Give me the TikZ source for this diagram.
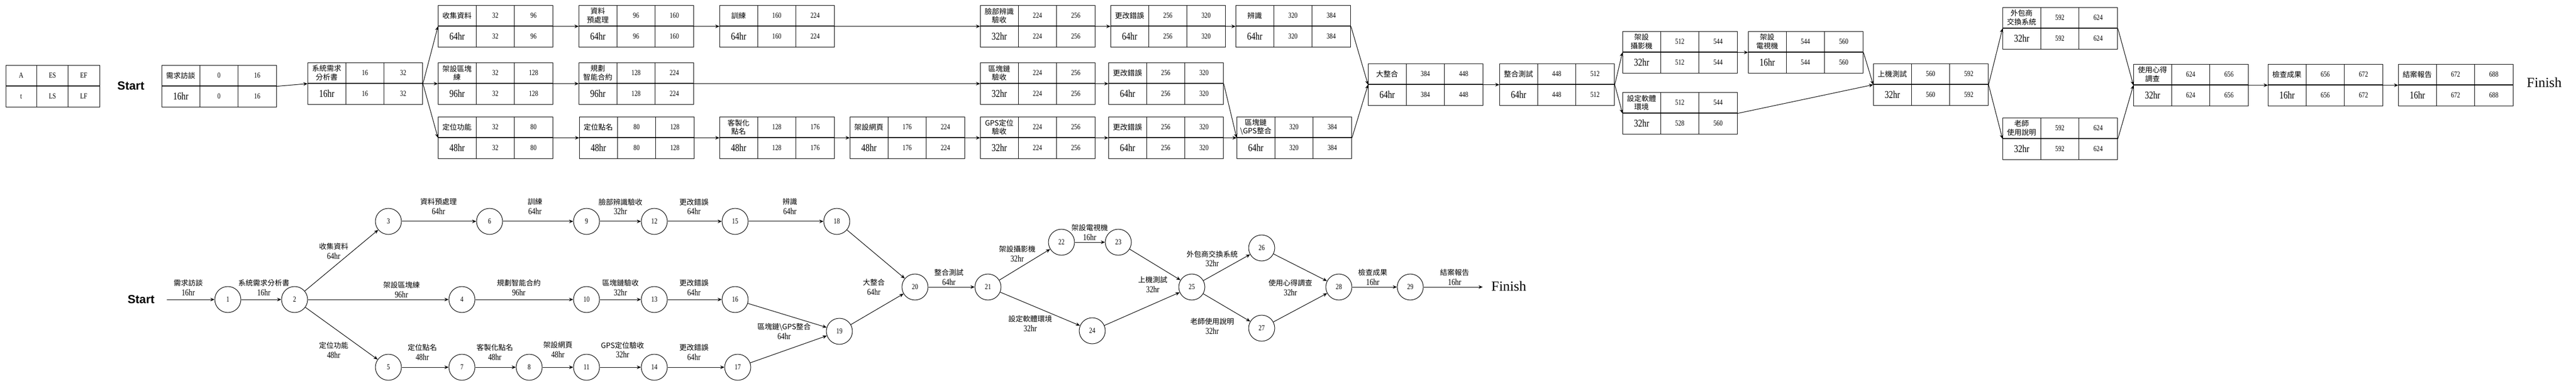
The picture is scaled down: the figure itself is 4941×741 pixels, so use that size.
\documentclass[tikz,border=0pt]{standalone}
\usepackage{fontspec}
\setmainfont{Liberation Serif}
\newfontfamily\numfont{Liberation Serif}[FakeStretch=0.8]
\newfontfamily\cjk{Noto Sans CJK TC}
\newfontfamily\headfont{Liberation Sans}
\usetikzlibrary{arrows.meta}

\tikzset{
  actbox/.style={draw, line width=0.9pt, minimum width=165pt, minimum height=60pt, inner sep=0pt, anchor=north west},
  cell/.style={inner sep=0.75pt, align=center},
  evt/.style={draw, circle, line width=0.75pt, minimum size=37.5pt, inner sep=0pt, font=\numfont\fontsize{11}{12}\selectfont},
  arr/.style={-{Stealth[length=6pt,width=5pt]}, line width=0.75pt},
  lbl/.style={inner sep=0.75pt, align=center, font=\numfont\fontsize{13}{14}\selectfont},
}

% chinese text inside a label
\newcommand{\zh}[1]{{\cjk\fontsize{10.5}{14}\selectfont #1}}

% activity box: name, x, y, activity, duration, ES, EF, LS, LF
\newcommand{\actbox}[9]{%
  \node[actbox] (#1) at (#2,#3) {};
  \draw[line width=0.9pt] (#2,#3+40) -- ++(220,0) (#2+73.33,#3) -- ++(0,80) (#2+146.67,#3) -- ++(0,80);
  \node[cell, font=\cjk\fontsize{10.5}{12.5}\selectfont] (#1-a) at (#2+36.67,#3+20) {#4};
  \node[cell, font=\numfont\fontsize{15}{16}\selectfont] (#1-t) at (#2+36.67,#3+60) {#5};
  \node[cell, font=\numfont\fontsize{11}{12}\selectfont] (#1-es) at (#2+110,#3+20) {#6};
  \node[cell, font=\numfont\fontsize{11}{12}\selectfont] (#1-ef) at (#2+183.33,#3+20) {#7};
  \node[cell, font=\numfont\fontsize{11}{12}\selectfont] (#1-ls) at (#2+110,#3+60) {#8};
  \node[cell, font=\numfont\fontsize{11}{12}\selectfont] (#1-lf) at (#2+183.33,#3+60) {#9};
}

\begin{document}
\begin{tikzpicture}[x=0.75pt,y=0.75pt,yscale=-1,xscale=1]
\useasboundingbox (0,0) rectangle (4941,741);

%Shape: Legend
\node[actbox, minimum width=135pt] (key) at (10.6,125) {};
\draw[line width=0.9pt] (10.6,165) -- ++(180,0) (70.6,125) -- ++(0,80) (130.6,125) -- ++(0,80);
\node[cell, font=\numfont\fontsize{11}{12}\selectfont] (key-a) at (40.6,145) {A};
\node[cell, font=\numfont\fontsize{11}{12}\selectfont] (key-es) at (100.6,145) {ES};
\node[cell, font=\numfont\fontsize{11}{12}\selectfont] (key-ef) at (160.6,145) {EF};
\node[cell, font=\numfont\fontsize{11}{12}\selectfont] (key-t) at (40.6,185) {t};
\node[cell, font=\numfont\fontsize{11}{12}\selectfont] (key-ls) at (100.6,185) {LS};
\node[cell, font=\numfont\fontsize{11}{12}\selectfont] (key-lf) at (160.6,185) {LF};

% Text Node
\node[font=\headfont\bfseries\fontsize{17}{20}\selectfont] (start1) at (251,165) {Start};
\node[font=\rmfamily\fontsize{20}{24}\selectfont] (finish1) at (4880,158) {Finish};

%Shape: Activity boxes
\actbox{interview}{310}{125}{需求訪談}{16hr}{0}{16}{0}{16}
\actbox{spec}{590}{120}{系統需求\\分析書}{16hr}{16}{32}{16}{32}
\actbox{collect}{840}{10}{收集資料}{64hr}{32}{96}{32}{96}
\actbox{chain}{840}{120}{架設區塊\\練}{96hr}{32}{128}{32}{128}
\actbox{locate}{840}{224}{定位功能}{48hr}{32}{80}{32}{80}
\actbox{prep}{1110}{10}{資料\\預處理}{64hr}{96}{160}{96}{160}
\actbox{plan}{1110}{120}{規劃\\智能合約}{96hr}{128}{224}{128}{224}
\actbox{roll}{1111}{224}{定位點名}{48hr}{80}{128}{80}{128}
\actbox{train}{1380}{10}{訓練}{64hr}{160}{224}{160}{224}
\actbox{custom}{1380}{224}{客製化\\點名}{48hr}{128}{176}{128}{176}
\actbox{web}{1630}{224}{架設網頁}{48hr}{176}{224}{176}{224}
\actbox{faceok}{1880}{10}{臉部辨識\\驗收}{32hr}{224}{256}{224}{256}
\actbox{chainok}{1880}{120}{區塊鏈\\驗收}{32hr}{224}{256}{224}{256}
\actbox{gpsok}{1880}{224}{GPS定位\\驗收}{32hr}{224}{256}{224}{256}
\actbox{fixa}{2130}{10}{更改錯誤}{64hr}{256}{320}{256}{320}
\actbox{fixb}{2126}{120}{更改錯誤}{64hr}{256}{320}{256}{320}
\actbox{fixc}{2126}{224}{更改錯誤}{64hr}{256}{320}{256}{320}
\actbox{recog}{2370}{10}{辨識}{64hr}{320}{384}{320}{384}
\actbox{merge}{2372}{224}{區塊鏈\\\textbackslash{}GPS整合}{64hr}{320}{384}{320}{384}
\actbox{integ}{2624}{122}{大整合}{64hr}{384}{448}{384}{448}
\actbox{itest}{2876}{122}{整合測試}{64hr}{448}{512}{448}{512}
\actbox{cam}{3112}{60}{架設\\攝影機}{32hr}{512}{544}{512}{544}
\actbox{env}{3112}{177}{設定軟體\\環境}{32hr}{512}{544}{528}{560}
\actbox{tv}{3353}{60}{架設\\電視機}{16hr}{544}{560}{544}{560}
\actbox{ontest}{3593}{122}{上機測試}{32hr}{560}{592}{560}{592}
\actbox{swap}{3841}{14}{外包商\\交換系統}{32hr}{592}{624}{592}{624}
\actbox{manual}{3841}{226}{老師\\使用說明}{32hr}{592}{624}{592}{624}
\actbox{survey}{4092}{123}{使用心得\\調查}{32hr}{624}{656}{624}{656}
\actbox{check}{4350}{123}{檢查成果}{16hr}{656}{672}{656}{672}
\actbox{report}{4600}{123}{結案報告}{16hr}{672}{688}{672}{688}

%Straight Lines
\draw[arr] (interview.east) -- (spec.west);
\draw[arr] (spec.east) -- (collect.west);
\draw[arr] (spec.east) -- (chain.west);
\draw[arr] (spec.east) -- (locate.west);
\draw[arr] (collect.east) -- (prep.west);
\draw[arr] (prep.east) -- (train.west);
\draw[arr] (train.east) -- (faceok.west);
\draw[arr] (faceok.east) -- (fixa.west);
\draw[arr] (fixa.east) -- (recog.west);
\draw[arr] (recog.east) -- (integ.west);
\draw[arr] (chain.east) -- (plan.west);
\draw[arr] (plan.east) -- (chainok.west);
\draw[arr] (chainok.east) -- (fixb.west);
\draw[arr] (fixb.east) -- (merge.west);
\draw[arr] (locate.east) -- (roll.west);
\draw[arr] (roll.east) -- (custom.west);
\draw[arr] (custom.east) -- (web.west);
\draw[arr] (web.east) -- (gpsok.west);
\draw[arr] (gpsok.east) -- (fixc.west);
\draw[arr] (fixc.east) -- (merge.west);
\draw[arr] (merge.east) -- (integ.west);
\draw[arr] (integ.east) -- (itest.west);
\draw[arr] (itest.east) -- (cam.west);
\draw[arr] (itest.east) -- (env.west);
\draw[arr] (cam.east) -- (tv.west);
\draw[arr] (tv.east) -- (ontest.west);
\draw[arr] (env.east) -- (ontest.west);
\draw[arr] (ontest.east) -- (swap.west);
\draw[arr] (ontest.east) -- (manual.west);
\draw[arr] (swap.east) -- (survey.west);
\draw[arr] (manual.east) -- (survey.west);
\draw[arr] (survey.east) -- (check.west);
\draw[arr] (check.east) -- (report.west);

%Shape: Events
\node[evt] (e1) at (437,575) {1};
\node[evt] (e2) at (565,575) {2};
\node[evt] (e3) at (745,425) {3};
\node[evt] (e4) at (886,575) {4};
\node[evt] (e5) at (745,705) {5};
\node[evt] (e6) at (939,425) {6};
\node[evt] (e7) at (886,705) {7};
\node[evt] (e8) at (1015,705) {8};
\node[evt] (e9) at (1125,425) {9};
\node[evt] (e10) at (1125,575) {10};
\node[evt] (e11) at (1125,705) {11};
\node[evt] (e12) at (1255,425) {12};
\node[evt] (e13) at (1255,575) {13};
\node[evt] (e14) at (1255,705) {14};
\node[evt] (e15) at (1410,425) {15};
\node[evt] (e16) at (1410,575) {16};
\node[evt] (e17) at (1415,705) {17};
\node[evt] (e18) at (1605,425) {18};
\node[evt] (e19) at (1610,636) {19};
\node[evt] (e20) at (1755,551) {20};
\node[evt] (e21) at (1895,551) {21};
\node[evt] (e22) at (2036,465) {22};
\node[evt] (e23) at (2145,465) {23};
\node[evt] (e24) at (2095,635) {24};
\node[evt] (e25) at (2286,551) {25};
\node[evt] (e26) at (2420,476) {26};
\node[evt] (e27) at (2420,630) {27};
\node[evt] (e28) at (2568,551) {28};
\node[evt] (e29) at (2705,551) {29};

% Text Node
\node[font=\headfont\bfseries\fontsize{17}{20}\selectfont] (start2) at (270.6,575) {Start};
\node[font=\rmfamily\fontsize{20}{24}\selectfont] (finish2) at (2894,549) {Finish};
\coordinate (s0) at (320,575);
\coordinate (f0) at (2844,551);

%Straight Lines
\draw[arr] (s0) -- (e1);
\draw[arr] (e1) -- (e2);
\draw[arr] (e2) -- (e3);
\draw[arr] (e2) -- (e4);
\draw[arr] (e2) -- (e5);
\draw[arr] (e3) -- (e6);
\draw[arr] (e6) -- (e9);
\draw[arr] (e9) -- (e12);
\draw[arr] (e12) -- (e15);
\draw[arr] (e15) -- (e18);
\draw[arr] (e4) -- (e10);
\draw[arr] (e10) -- (e13);
\draw[arr] (e13) -- (e16);
\draw[arr] (e16) -- (e19);
\draw[arr] (e5) -- (e7);
\draw[arr] (e7) -- (e8);
\draw[arr] (e8) -- (e11);
\draw[arr] (e11) -- (e14);
\draw[arr] (e14) -- (e17);
\draw[arr] (e17) -- (e19);
\draw[arr] (e18) -- (e20);
\draw[arr] (e19) -- (e20);
\draw[arr] (e20) -- (e21);
\draw[arr] (e21) -- (e22);
\draw[arr] (e22) -- (e23);
\draw[arr] (e21) -- (e24);
\draw[arr] (e23) -- (e25);
\draw[arr] (e24) -- (e25);
\draw[arr] (e25) -- (e26);
\draw[arr] (e25) -- (e27);
\draw[arr] (e26) -- (e28);
\draw[arr] (e27) -- (e28);
\draw[arr] (e28) -- (e29);
\draw[arr] (e29) -- (f0);

% Text Node
\node[lbl] (l01) at (361,552) {\zh{需求訪談}\\16hr};
\node[lbl] (l12) at (506,552) {\zh{系統需求分析書}\\16hr};
\node[lbl] (l23) at (640,482) {\zh{收集資料}\\64hr};
\node[lbl] (l24) at (770,556.5) {\zh{架設區塊練}\\96hr};
\node[lbl] (l25) at (640,672) {\zh{定位功能}\\48hr};
\node[lbl] (l36) at (841,396.5) {\zh{資料預處理}\\64hr};
\node[lbl] (l69) at (1026,396.5) {\zh{訓練}\\64hr};
\node[lbl] (l912) at (1190,396.5) {\zh{臉部辨識驗收}\\32hr};
\node[lbl] (l1215) at (1331,396.5) {\zh{更改錯誤}\\64hr};
\node[lbl] (l1518) at (1515,396.5) {\zh{辨識}\\64hr};
\node[lbl] (l410) at (995,552) {\zh{規劃智能合約}\\96hr};
\node[lbl] (l1013) at (1190,552) {\zh{區塊鏈驗收}\\32hr};
\node[lbl] (l1316) at (1331,552) {\zh{更改錯誤}\\64hr};
\node[lbl] (l1619) at (1504,636) {\zh{區塊鏈\textbackslash{}GPS整合}\\64hr};
\node[lbl] (l57) at (810,676) {\zh{定位點名}\\48hr};
\node[lbl] (l78) at (949,676) {\zh{客製化點名}\\48hr};
\node[lbl] (l811) at (1070,671.5) {\zh{架設網頁}\\48hr};
\node[lbl] (l1114) at (1194,671.5) {\zh{GPS定位驗收}\\32hr};
\node[lbl] (l1417) at (1331,676) {\zh{更改錯誤}\\64hr};
\node[lbl] (l1920) at (1676,551.5) {\zh{大整合}\\64hr};
\node[lbl] (l2021) at (1820,532) {\zh{整合測試}\\64hr};
\node[lbl] (l2122) at (1951,487) {\zh{架設攝影機}\\32hr};
\node[lbl] (l2223) at (2090,446.5) {\zh{架設電視機}\\16hr};
\node[lbl] (l2124) at (1976,621) {\zh{設定軟體環境}\\32hr};
\node[lbl] (l2425) at (2211,546) {\zh{上機測試}\\32hr};
\node[lbl] (l2526) at (2325,496.5) {\zh{外包商交換系統}\\32hr};
\node[lbl] (l2527) at (2325,626.5) {\zh{老師使用說明}\\32hr};
\node[lbl] (l2728) at (2475,552.5) {\zh{使用心得調查}\\32hr};
\node[lbl] (l2829) at (2633,532) {\zh{檢查成果}\\16hr};
\node[lbl] (l29f) at (2790,532) {\zh{結案報告}\\16hr};

\end{tikzpicture}
\end{document}
